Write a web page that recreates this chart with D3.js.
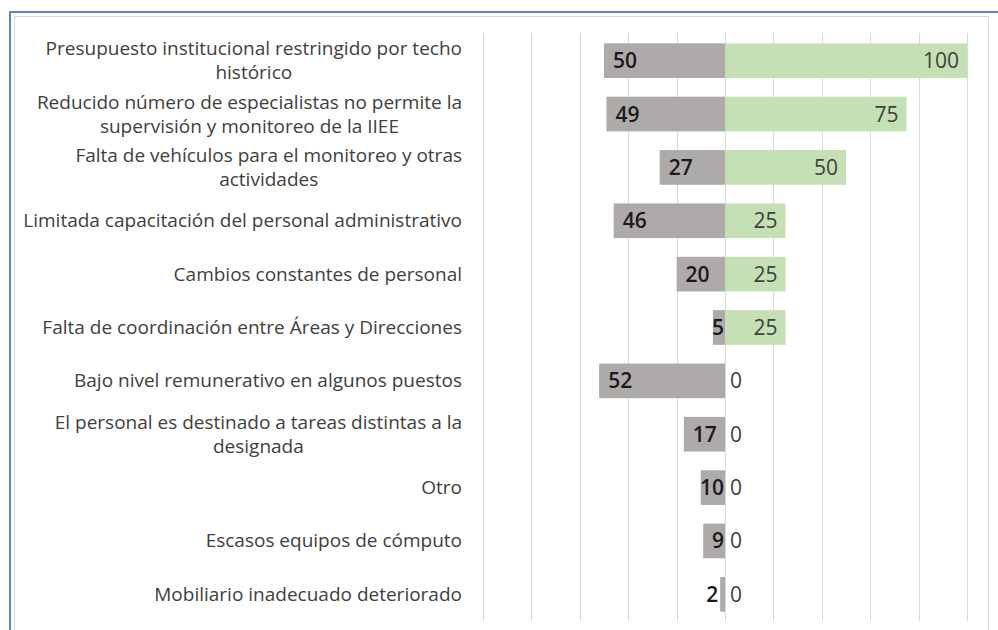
<!DOCTYPE html>
<html>
<head>
<meta charset="utf-8">
<script src="https://cdn.jsdelivr.net/npm/d3@7"></script>
<style>
  body { margin: 0; background: #fff; }
  svg { display: block; font-family: 'Open Sans', sans-serif; }
</style>
</head>
<body>
<div id="chart"></div>
<script>
const categories = [
  ['Presupuesto institucional restringido por techo', 'histórico'],
  ['Reducido número de especialistas no permite la', 'supervisión y monitoreo de la IIEE'],
  ['Falta de vehículos para el monitoreo y otras', 'actividades'],
  ['Limitada capacitación del personal administrativo'],
  ['Cambios constantes de personal'],
  ['Falta de coordinación entre Áreas y Direcciones'],
  ['Bajo nivel remunerativo en algunos puestos'],
  ['El personal es destinado a tareas distintas a la', 'designada'],
  ['Otro'],
  ['Escasos equipos de cómputo'],
  ['Mobiliario inadecuado deteriorado']
]
const grayValues = [50, 49, 27, 46, 20, 5, 52, 17, 10, 9, 2]
const greenValues = [100, 75, 50, 25, 25, 25, 0, 0, 0, 0, 0]
const gridTicks = [-100, -80, -60, -40, -20, 0, 20, 40, 60, 80, 100]

const W = 998, H = 630
const svg = d3.select('#chart').append('svg')
  .attr('width', W)
  .attr('height', H)

// frame: blue outer line, light gray inner box
svg.append('path')
  .attr('d', `M10,${H} V12 H${W}`)
  .attr('fill', 'none')
  .attr('stroke', '#5b87c8')
  .attr('stroke-width', 2)
svg.append('rect')
  .attr('x', 14.5).attr('y', 16.5)
  .attr('width', 974).attr('height', H)
  .attr('fill', 'none')
  .attr('stroke', '#d9d9d9')

const x = d3.scaleLinear().domain([-100, 100]).range([483, 967])
const y = d3.scaleBand()
  .domain(d3.range(categories.length))
  .range([34, 621])
  .paddingInner(0.35)
  .paddingOuter(0.175)

svg.append('g').selectAll('line')
  .data(gridTicks)
  .join('line')
  .attr('x1', d => Math.round(x(d)) + 0.5)
  .attr('x2', d => Math.round(x(d)) + 0.5)
  .attr('y1', 33)
  .attr('y2', 621)
  .attr('stroke', '#d9d9d9')

const rows = svg.append('g').selectAll('g')
  .data(categories.map((c, i) => ({ lines: c, gray: grayValues[i], green: greenValues[i], i })))
  .join('g')
  .attr('transform', d => `translate(0, ${y(d.i)})`)

const bh = y.bandwidth()

rows.append('rect')
  .attr('x', d => x(-d.gray))
  .attr('width', d => x(0) - x(-d.gray))
  .attr('height', bh)
  .attr('fill', '#aeaaaa')

rows.append('rect')
  .attr('x', x(0))
  .attr('width', d => x(d.green) - x(0))
  .attr('height', bh)
  .attr('fill', '#c5e0b4')

// gray labels
rows.append('text')
  .text(d => d.gray)
  .attr('y', bh / 2 + 7.5)
  .attr('font-size', 21)
  .attr('font-weight', 600)
  .attr('fill', '#1a1a1a')
  .each(function (d) {
    const t = d3.select(this)
    const w = this.getComputedTextLength()
    const x0 = x(-d.gray)
    const barW = x(0) - x0
    if (barW < w) {
      t.attr('text-anchor', 'end').attr('x', x0 - 2)
    } else if (x0 + 9 + w > x(0) - 2) {
      t.attr('text-anchor', 'end').attr('x', x(0) - 1)
    } else {
      t.attr('x', x0 + 9)
    }
  })

// green labels
rows.append('text')
  .text(d => d.green)
  .attr('y', bh / 2 + 7.5)
  .attr('font-size', 21)
  .attr('fill', '#404040')
  .attr('text-anchor', d => d.green > 0 ? 'end' : 'start')
  .attr('x', d => d.green > 0 ? x(d.green) - 8 : x(0) + 5)

// category labels, lines centred on each other, block right aligned
const labelRight = 462
rows.each(function (d) {
  const g = d3.select(this)
  const t = g.append('text')
    .attr('font-size', 19)
    .attr('fill', '#404040')
    .attr('text-anchor', 'middle')
  const n = d.lines.length
  const spans = t.selectAll('tspan')
    .data(d.lines)
    .join('tspan')
    .text(s => s)
    .attr('y', (s, k) => bh / 2 + 6.5 + (k - (n - 1) / 2) * 24)
  let maxW = 0
  spans.each(function () { maxW = Math.max(maxW, this.getComputedTextLength()) })
  spans.attr('x', labelRight - maxW / 2)
})
</script>
</body>
</html>
